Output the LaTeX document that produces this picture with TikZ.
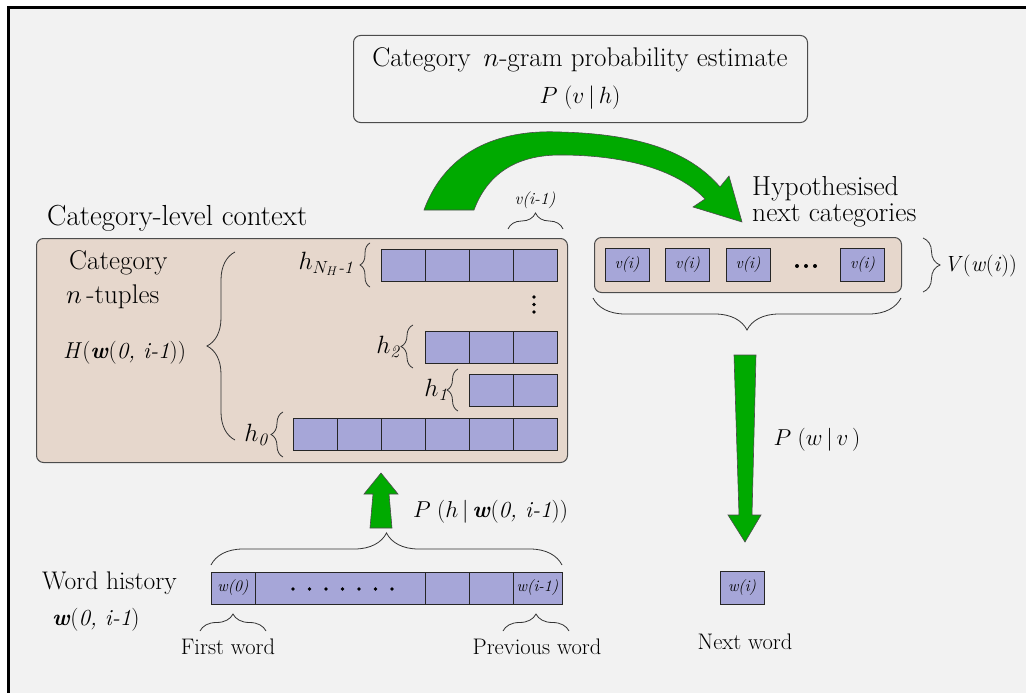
\RequirePackage{fix-cm}
\documentclass[tikz,border=0pt]{standalone}
\usepackage{amsmath}
\usepackage{fontspec}
\usetikzlibrary{decorations.pathreplacing}
\definecolor{bgc}{RGB}{242,242,242}
\definecolor{tanc}{RGB}{230,215,204}
\definecolor{cellc}{RGB}{166,166,216}
\definecolor{greenc}{RGB}{0,170,0}
\newcommand{\fs}[1]{\fontsize{#1}{#1}\selectfont}
\begin{document}
\begin{tikzpicture}[x=1pt,y=-1pt,
  cell/.style={draw=black!85, fill=cellc, line width=0.8pt, minimum width=44pt, minimum height=32pt, inner sep=0pt, font=\fs{16}\itshape},
  panel/.style={draw=black!70, fill=tanc, rounded corners=7pt, line width=1pt, inner sep=0pt},
  greenarrow/.style={fill=greenc, draw=black!70, line width=0.6pt},
  brc/.style={decorate, decoration={brace, amplitude=#1}, draw=black!80, line width=0.8pt},
  brc/.default=10,
  txtbig/.style={font=\fs{24}, inner sep=0pt},
  txtmid/.style={font=\fs{22.5}, inner sep=0pt},
  txtsmall/.style={font=\fs{16}\itshape, inner sep=0pt},
  dotc/.style={fill=black}]
\useasboundingbox (0,0) rectangle (1026,693);
\fill[white] (0,0) rectangle (1026,693);
\draw[line width=3pt, fill=bgc] (8.5,7.5) rectangle (1040,710);

% top estimate box
\node[panel, fill=bgc, minimum width=454pt, minimum height=87pt, anchor=north west] (est) at (353,35) {};
\node[txtbig, font=\fs{27}] (estA) at (580,60) {Category \,$n$-gram probability estimate};
\node[txtbig, font=\fs{23.5}] (estB) at (580,98) {$P\;(v\,|\,h)$};

% green curved arrow
\path[greenarrow] (424,210) .. controls (450,140) and (515,130) .. (560,132)
  .. controls (640,134) and (690,152) .. (720,187) -- (729,176) -- (742,222) -- (693,207) -- (705,199)
  .. controls (680,172) and (630,155) .. (560,155)
  .. controls (515,155) and (487,175) .. (474,210) -- cycle;

% left panel
\node[txtbig, font=\fs{29}, anchor=west] (ctxlabel) at (47,218) {Category-level context};
\node[panel, minimum width=531pt, minimum height=224pt, anchor=north west] (ctx) at (36,238) {};
\node[txtbig, font=\fs{27}, anchor=west] (ct1) at (69,263) {Category};
\node[txtbig, font=\fs{27}, anchor=west] (ct2) at (66,297) {$n$\,-tuples};
\node[txtbig, font=\fs{23}, anchor=west] (ct3) at (63,353) {\textit{H}(\textbf{\textit{w}}(\textit{0, i-1}))};
\draw[brc=28] (235,440) -- (235,252);

\foreach \i/\x in {1/403,2/447,3/491,4/535} \node[cell] (hN\i) at (\x,265) {};
\foreach \i/\x in {1/447,2/491,3/535} \node[cell] (hb\i) at (\x,347) {};
\foreach \i/\x in {1/491,2/535} \node[cell] (ha\i) at (\x,390.5) {};
\foreach \i/\x in {1/315,2/359,3/403,4/447,5/491,6/535} \node[cell] (hz\i) at (\x,434.5) {};

\node[txtbig, font=\fs{25}] (lN) at (326,264) {$h_{N_H\textit{-1}}$};
\node[txtbig, font=\fs{25}] (l2) at (388,347) {$h_{\mathit{2}}$};
\node[txtbig, font=\fs{25}] (l1) at (436,390) {$h_{\mathit{1}}$};
\node[txtbig, font=\fs{25}] (l0) at (256,435) {$h_{\mathit{0}}$};
\draw[brc=10] (370,287) -- (370,243);
\draw[brc=12] (413,368) -- (413,325);
\draw[brc=11] (458,411) -- (458,369);
\draw[brc=12] (283,457) -- (283,412);

\foreach \k/\y in {1/297,2/304.5,3/312} \fill[dotc] (534,\y) circle (1.8);

\node[txtsmall, font=\fs{17}\itshape] (vprev) at (535,200) {v(i-1)};
\draw[brc=16] (508,229) -- (563,229);

% right panel
\node[txtbig, anchor=north west, align=left, font=\fontsize{27.5}{26}\selectfont] (hyp) at (752,176) {Hypothesised\\next categories};
\node[panel, minimum width=307pt, minimum height=55pt, anchor=north west] (vbox) at (594,237) {};
\foreach \i/\x in {1/627,2/687.5,3/748,5/862.5} \node[cell, minimum height=33pt] (v\i) at (\x,264.5) {v(i)};
\foreach \k/\x in {1/797,2/806,3/815} \fill[dotc] (\x,266) circle (2);
\draw[brc=17] (923,238) -- (923,292);
\node[txtbig, font=\fs{22}, anchor=west] (Vw) at (944,266) {\textit{V}(\textit{w}(\textit{i}))};
\draw[brc=32] (901,298) -- (593,298);

% down arrow
\path[greenarrow] (734,355) -- (756,355) -- (752,515) -- (761,515) -- (745,542) -- (728,515) -- (739,515) -- cycle;
\node[txtbig, font=\fs{23}] (Pwv) at (817,440) {$P\;(w\,|\,v\,)$};
\node[cell, minimum height=33pt] (wi) at (742,587.5) {w(i)};
\node[txtmid] (next) at (745,642) {Next word};

% up arrow
\path[greenarrow] (370,528) -- (392,528) -- (389,494) -- (398,494) -- (381,473) -- (364,494) -- (373,494) -- cycle;
\node[txtbig, font=\fs{23}, anchor=west] (Phw) at (413,512) {$P\;(h\,|\,$\textbf{\textit{w}}(\textit{0, i-1})$)$};
\draw[brc=32] (211,565) -- (562,565);

% word history row
\node[cell] (w0) at (233,588) {w(0)};
\node[cell, minimum width=170pt] (wdots) at (340,588) {};
\node[cell] (wa) at (447,588) {};
\node[cell] (wb) at (491,588) {};
\node[cell, minimum width=49pt] (wlast) at (537.5,588) {w(i-1)};
\foreach \k in {0,...,6} \fill[dotc] (293+16.5*\k,589) circle (1.8);

\node[txtbig, font=\fs{25.5}, anchor=west] (wh1) at (42,583) {Word history};
\node[txtbig, font=\fs{23}, anchor=west] (wh2) at (52,620) {\textbf{\textit{w}}(\textit{0, i-1})};
\draw[brc=17] (200,631) -- (266,631);
\draw[brc=17] (503,631) -- (569,631);
\node[txtmid] (first) at (228,647) {First word};
\node[txtmid] (prev) at (537,647) {Previous word};
\end{tikzpicture}
\end{document}
